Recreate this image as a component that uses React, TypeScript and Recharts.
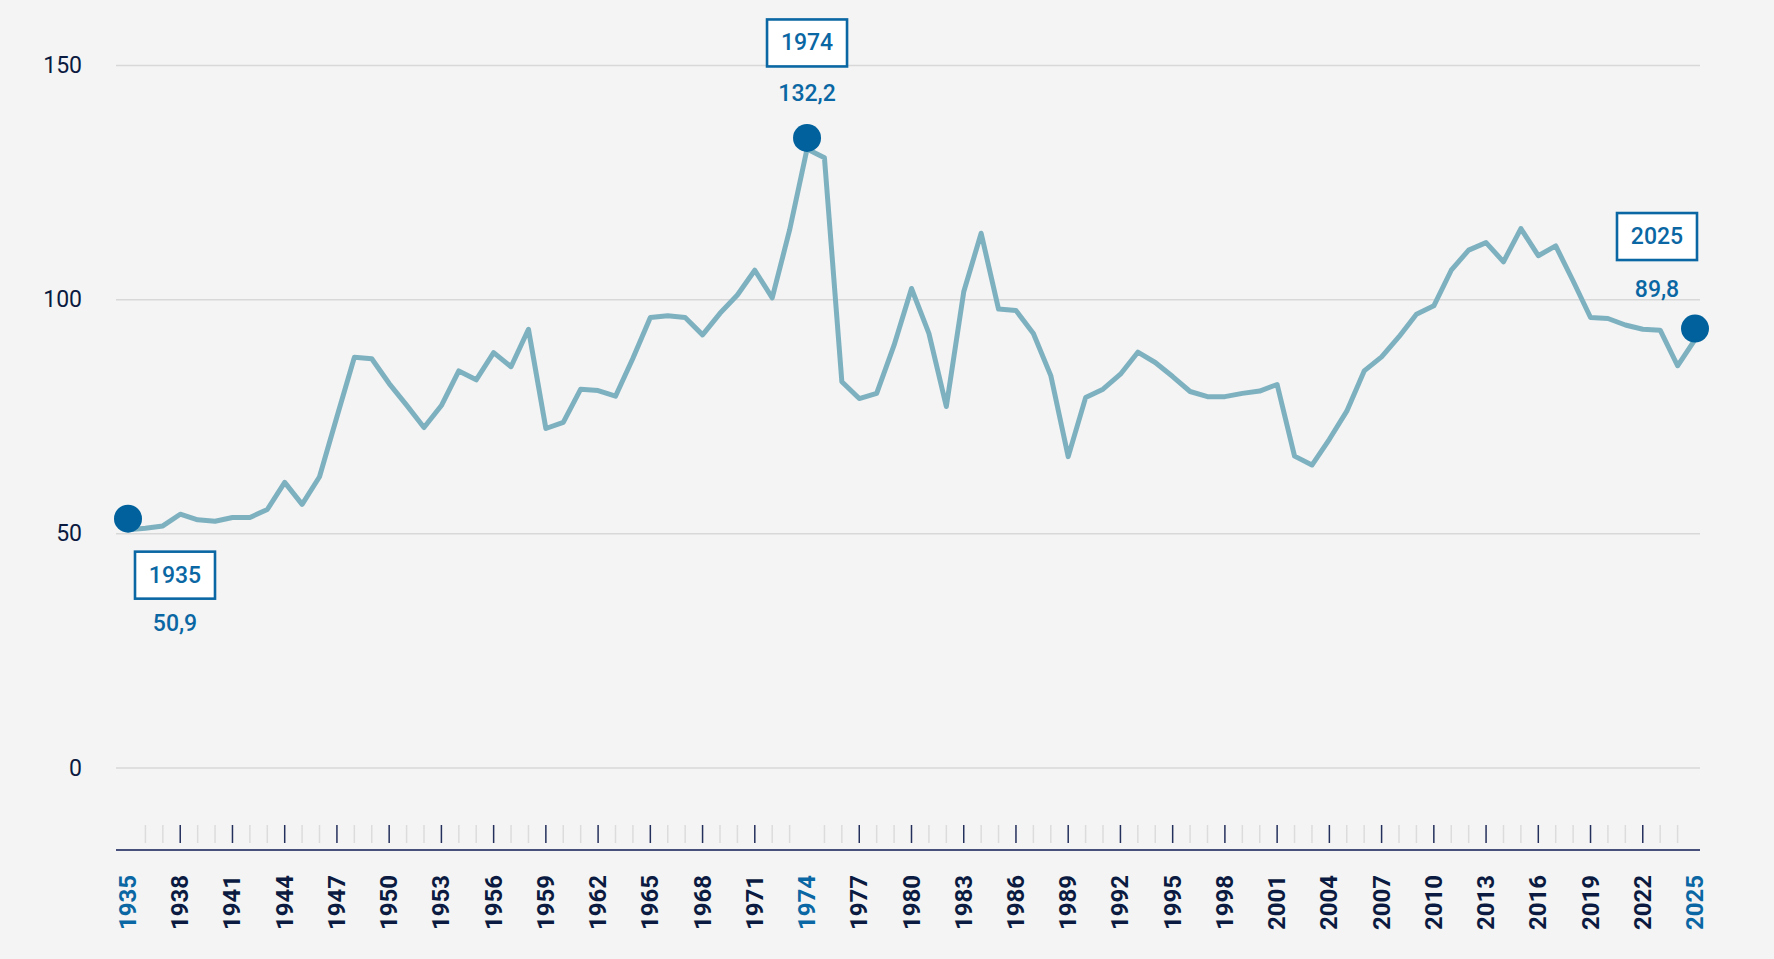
import React from 'react';
import { LineChart, Line, XAxis, YAxis, CartesianGrid } from 'recharts';

if (typeof document !== 'undefined') {
  document.body.style.margin = '0';
  document.body.style.background = '#f4f4f4';
}

const START_YEAR = 1935;

const VALUES: number[] = [
  50.9, 51.2, 51.7, 54.2, 53.0, 52.7, 53.5, 53.5, 55.2, 61.0,
  56.3, 62.2, 75.0, 87.7, 87.4, 82.1, 77.5, 72.7, 77.4, 84.8,
  82.9, 88.7, 85.7, 93.7, 72.5, 73.8, 80.9, 80.6, 79.4, 87.5,
  96.2, 96.6, 96.2, 92.5, 97.1, 101.0, 106.3, 100.4, 114.9, 132.2,
  130.3, 82.5, 78.9, 80.0, 90.3, 102.4, 92.8, 77.2, 101.7, 114.2,
  98.0, 97.7, 92.8, 83.8, 66.5, 79.1, 80.9, 84.1, 88.8, 86.6,
  83.6, 80.4, 79.3, 79.3, 80.0, 80.5, 81.9, 66.6, 64.7, 70.2,
  76.2, 84.8, 87.8, 92.1, 96.9, 98.7, 106.3, 110.6, 112.2, 108.1,
  115.2, 109.4, 111.5, 104.0, 96.2, 96.0, 94.6, 93.7, 93.5, 85.9,
  91.5,
];

const YEARS: number[] = VALUES.map((_, i) => START_YEAR + i);

const LABEL_YEARS: number[] = [
  1935, 1938, 1941, 1944, 1947, 1950, 1953, 1956, 1959, 1962, 1965,
  1968, 1971, 1974, 1977, 1980, 1983, 1986, 1989, 1992, 1995, 1998,
  2001, 2004, 2007, 2010, 2013, 2016, 2019, 2022, 2025,
];

const Y_TICKS: number[] = [0, 50, 100, 150];

const HIGHLIGHTS = [
  { year: 1935, label: '1935', value: '50,9', pos: 'below' },
  { year: 1974, label: '1974', value: '132,2', pos: 'above' },
  { year: 2025, label: '2025', value: '89,8', pos: 'aboveLeft' },
];

const PLACEMENT: Record<string, { dx: number; boxDy: number; valDy: number }> = {
  below: { dx: 47, boxDy: 56.5, valDy: 105 },
  above: { dx: 0, boxDy: -95, valDy: -44 },
  aboveLeft: { dx: -38, boxDy: -92, valDy: -39 },
};

const data = YEARS.map((year, i) => ({ year, value: VALUES[i] }));

const BLUE = '#0a67a3';
const DOT_BLUE = '#00619c';
const NAVY = '#0b1a40';
const LINE_COLOR = '#7eb1c0';
const FONT = 'Roboto, "Liberation Sans", Arial, sans-serif';

const XTick = (props: any) => {
  const { x, y, payload } = props;
  const yr = payload.value as number;
  const hi = HIGHLIGHTS.some((h) => h.year === yr);
  const labelled = LABEL_YEARS.includes(yr);
  return (
    <g>
      {!hi && (
        <line
          x1={x}
          x2={x}
          y1={y - 25}
          y2={y - 7}
          stroke={labelled ? '#24305c' : '#dcdcdc'}
          strokeWidth={1.5}
        />
      )}
      {labelled && (
        <text
          transform={`translate(${x},${y + 25}) rotate(-90)`}
          textAnchor="end"
          dominantBaseline="central"
          fontFamily={FONT}
          fontWeight={700}
          fontSize={24}
          fill={hi ? BLUE : NAVY}
        >
          {yr}
        </text>
      )}
    </g>
  );
};

const YTick = (props: any) => {
  const { x, y, payload } = props;
  return (
    <text
      x={x}
      y={y}
      textAnchor="end"
      dominantBaseline="central"
      fontFamily={FONT}
      fontSize={23}
      fill={NAVY}
    >
      {payload.value}
    </text>
  );
};

const HighlightDot = (props: any) => {
  const { cx, cy, payload, index } = props;
  const h = HIGHLIGHTS.find((d) => d.year === payload.year);
  if (!h || cx == null || cy == null) return <g key={`d-${index}`} />;
  const p = PLACEMENT[h.pos];
  const dcx = cx;
  const dcy = cy - 11;
  const bw = 80;
  const bh = 47;
  const bx = dcx + p.dx;
  const by = dcy + p.boxDy;
  return (
    <g key={`d-${index}`}>
      <circle cx={dcx} cy={dcy} r={14} fill={DOT_BLUE} />
      <rect
        x={bx - bw / 2}
        y={by - bh / 2}
        width={bw}
        height={bh}
        fill="#ffffff"
        stroke={BLUE}
        strokeWidth={2.6}
      />
      <text
        x={bx}
        y={by}
        textAnchor="middle"
        dominantBaseline="central"
        fontFamily={FONT}
        fontWeight={500}
        fontSize={23}
        fill={BLUE}
      >
        {h.label}
      </text>
      <text
        x={bx}
        y={dcy + p.valDy}
        textAnchor="middle"
        dominantBaseline="central"
        fontFamily={FONT}
        fontWeight={500}
        fontSize={23}
        fill={BLUE}
      >
        {h.value}
      </text>
    </g>
  );
};

export default function App() {
  return (
    <div style={{ width: 1774, height: 959, background: '#f4f4f4' }}>
      <LineChart
        width={1774}
        height={959}
        data={data}
        margin={{ top: 65.6, right: 74, bottom: 9, left: 0 }}
      >
        <CartesianGrid horizontal vertical={false} stroke="#d8d8d8" strokeWidth={1.5} />
        <XAxis
          dataKey="year"
          type="number"
          domain={[1935, 2025]}
          ticks={YEARS}
          interval={0}
          padding={{ left: 12, right: 5 }}
          height={100}
          tickSize={0}
          tickMargin={0}
          tickLine={false}
          axisLine={{ stroke: '#46507a', strokeWidth: 2 }}
          tick={<XTick />}
        />
        <YAxis
          type="number"
          domain={[-17.51, 150]}
          ticks={Y_TICKS}
          width={116}
          tickSize={0}
          tickMargin={34}
          axisLine={false}
          tickLine={false}
          tick={<YTick />}
        />
        <Line
          type="linear"
          dataKey="value"
          stroke={LINE_COLOR}
          strokeWidth={5}
          strokeLinejoin="round"
          dot={(p: any) => <HighlightDot {...p} />}
          activeDot={false}
          isAnimationActive={false}
        />
      </LineChart>
    </div>
  );
}
